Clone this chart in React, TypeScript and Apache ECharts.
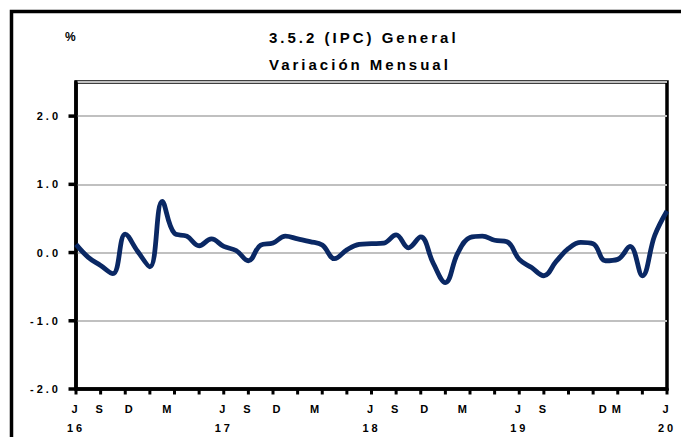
import React, { useEffect, useRef } from 'react';
import * as echarts from 'echarts';

// Months from Jul 2016 to Jul 2020 (49 monthly observations)
const months = [
  'Jul 16', 'Ago 16', 'Sep 16', 'Oct 16', 'Nov 16', 'Dic 16',
  'Ene 17', 'Feb 17', 'Mar 17', 'Abr 17', 'May 17', 'Jun 17',
  'Jul 17', 'Ago 17', 'Sep 17', 'Oct 17', 'Nov 17', 'Dic 17',
  'Ene 18', 'Feb 18', 'Mar 18', 'Abr 18', 'May 18', 'Jun 18',
  'Jul 18', 'Ago 18', 'Sep 18', 'Oct 18', 'Nov 18', 'Dic 18',
  'Ene 19', 'Feb 19', 'Mar 19', 'Abr 19', 'May 19', 'Jun 19',
  'Jul 19', 'Ago 19', 'Sep 19', 'Oct 19', 'Nov 19', 'Dic 19',
  'Ene 20', 'Feb 20', 'Mar 20', 'Abr 20', 'May 20', 'Jun 20',
  'Jul 20',
];

// IPC General, variación mensual (%)
const ipcMensual = [
  0.12, -0.07, -0.19, -0.31, 0.27, 0.02,
  -0.21, 0.75, 0.28, 0.24, 0.10, 0.20,
  0.09, 0.03, -0.12, 0.11, 0.14, 0.24,
  0.20, 0.16, 0.11, -0.09, 0.04, 0.12,
  0.13, 0.14, 0.26, 0.07, 0.23, -0.15,
  -0.44, -0.01, 0.22, 0.24, 0.18, 0.16,
  -0.10, -0.22, -0.34, -0.13, 0.06, 0.15,
  0.13, -0.12, -0.10, 0.09, -0.34, 0.25,
  0.61,
];

// Y axis labelled values (also tick marks)
const yTicks = [-2, -1, 0, 1, 2];

// X axis tick marks, every two months (month index)
const xTicks = [0, 2, 4, 6, 8, 10, 12, 14, 16, 18, 20, 22, 24, 26, 28, 30, 32, 34, 36, 38, 40, 42, 44, 46, 48];

// X axis tick labels and where they sit (in month index units)
const xLabelText = [
  'J\n16', 'S', 'D', 'M',
  'J\n17', 'S', 'D', 'M',
  'J\n18', 'S', 'D', 'M',
  'J\n19', 'S', 'D', 'M',
  'J\n20',
];
const xLabelAt = [
  0, 2, 4.4, 7.5,
  12, 14, 16.4, 19.5,
  24, 26, 28.4, 31.5,
  36, 38, 42.9, 44,
  48,
];

const titleLine1 = '3.5.2 (IPC) General';
const titleLine2 = 'Variación Mensual';
const unitLabel = '%';

const FONT = "'Liberation Sans', Arial, sans-serif";
const Y_MIN = -2;
const X_MIN = 0;

export default function App() {
  const ref = useRef<HTMLDivElement>(null);

  useEffect(() => {
    if (!ref.current) return;
    const chart = echarts.init(ref.current, undefined, { renderer: 'svg' });

    const option: any = {
      animation: false,
      backgroundColor: '#fff',
      grid: {
        left: 76, right: 14, top: 82, bottom: 45.5,
        show: true, borderColor: '#000', borderWidth: 3.5, backgroundColor: 'transparent',
      },
      xAxis: [
        {
          type: 'value', min: X_MIN, max: months.length - 1, interval: 2,
          axisLine: { show: true, onZero: false, lineStyle: { color: '#000', width: 3.5 } },
          axisTick: { show: false },
          splitLine: { show: false },
          axisLabel: {
            customValues: xLabelAt,
            formatter: (v: number) => {
              const i = xLabelAt.findIndex((p) => Math.abs(p - v) < 1e-6);
              return i >= 0 ? xLabelText[i] : '';
            },
            fontFamily: FONT, fontSize: 11, fontWeight: 'bold', color: '#000', lineHeight: 19, margin: 10,
          },
        },
      ],
      yAxis: [
        {
          type: 'value', min: Y_MIN, max: 2.5, interval: 1,
          axisLine: { show: true, onZero: false, lineStyle: { color: '#000', width: 3.5 } },
          axisTick: { show: false },
          splitLine: { show: true, lineStyle: { color: '#c0c0c0', width: 2 } },
          axisLabel: {
            formatter: (v: number) => (yTicks.indexOf(v) >= 0 ? v.toFixed(1) : ''),
            fontFamily: FONT, fontSize: 11, fontWeight: 'bold', color: '#000', margin: 15,
          },
        },
      ],
      series: [
        {
          type: 'line',
          data: ipcMensual.map((v, i) => [i, v]),
          smooth: 0.4, showSymbol: false,
          lineStyle: { color: '#0a2864', width: 4.8 }, z: 3,
        },
        {
          // tick marks below the x axis
          type: 'custom', clip: false, silent: true, z: 5,
          data: xTicks.map((m) => [m, Y_MIN]),
          renderItem: (params: any, api: any) => {
            const p = api.coord([api.value(0), api.value(1)]);
            return {
              type: 'line',
              shape: { x1: p[0], y1: p[1], x2: p[0], y2: p[1] + 5.5 },
              style: { stroke: '#000', lineWidth: 3 },
            };
          },
        },
        {
          // tick marks left of the y axis
          type: 'custom', clip: false, silent: true, z: 5,
          data: yTicks.map((v) => [X_MIN, v]),
          renderItem: (params: any, api: any) => {
            const p = api.coord([api.value(0), api.value(1)]);
            return {
              type: 'line',
              shape: { x1: p[0] - 7.5, y1: p[1], x2: p[0], y2: p[1] },
              style: { stroke: '#000', lineWidth: 3.5 },
            };
          },
        },
      ],
      graphic: [
        {
          type: 'rect', shape: { x: 11.5, y: 11.5, width: 720, height: 480 },
          style: { fill: 'none', stroke: '#000', lineWidth: 3.5 }, silent: true,
        },
        {
          type: 'text', x: 65, y: 36.5,
          style: { text: unitLabel, font: `bold 12px ${FONT}`, fill: '#000', textAlign: 'left', textVerticalAlign: 'middle' },
        },
        {
          type: 'text', x: 269, y: 37.5,
          style: { text: titleLine1, font: `bold 15px ${FONT}`, fill: '#000', textAlign: 'left', textVerticalAlign: 'middle' },
        },
        {
          type: 'text', x: 269, y: 64,
          style: { text: titleLine2, font: `bold 15px ${FONT}`, fill: '#000', textAlign: 'left', textVerticalAlign: 'middle' },
        },
      ],
    };

    chart.setOption(option);
    return () => chart.dispose();
  }, []);

  return (
    <>
      <style>{`body{margin:0;} #chartbox text{letter-spacing:3px;}`}</style>
      <div id="chartbox" ref={ref} style={{ width: 681, height: 437 }} />
    </>
  );
}
